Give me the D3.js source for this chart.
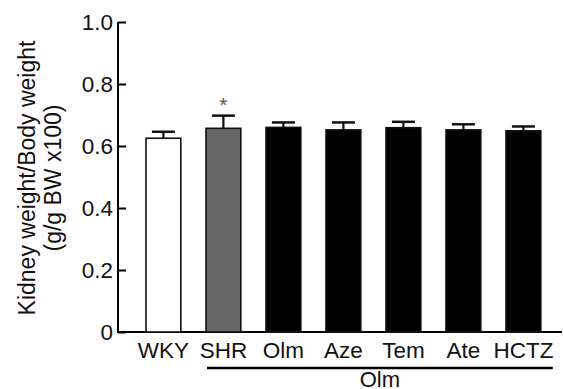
<!DOCTYPE html>
<html>
<head>
<meta charset="utf-8">
<script src="https://cdn.jsdelivr.net/npm/d3@7"></script>
<style>
  body { margin: 0; background: #fff; }
  svg { display: block; font-family: Arial, "Liberation Sans", sans-serif; }
</style>
</head>
<body>
<script>
// data
const groups = ['WKY', 'SHR', 'Olm', 'Aze', 'Tem', 'Ate', 'HCTZ'];
const means = [0.625, 0.657, 0.660, 0.652, 0.659, 0.652, 0.649];
const errors = [0.021, 0.041, 0.016, 0.024, 0.019, 0.018, 0.014];
const fills = ['#ffffff', '#666666', '#000000', '#000000', '#000000', '#000000', '#000000'];
const yTicks = [0, 0.2, 0.4, 0.6, 0.8, 1.0];
const signif = ['', '*', '', '', '', '', ''];
const treatedGroups = ['SHR', 'HCTZ'];  // span of the "Olm" bracket
const treatedLabel = 'Olm';

const width = 563;
const height = 389;

const svg = d3.select('body')
    .append('svg')
    .attr('width', width)
    .attr('height', height);

// scales
const xScale = d3.scaleBand()
    .domain(groups)
    .range([133.4, 553.4])
    .paddingInner(0.42)
    .paddingOuter(0.21);

const yScale = d3.scaleLinear()
    .domain([0, 1])
    .range([332, 22]);

const axisX = 118;

// y axis (ticks point inward)
const yAxis = d3.axisRight(yScale)
    .tickValues(yTicks)
    .tickSize(8)
    .tickFormat(d => d === 0 ? '0' : d3.format('.1f')(d));

const yAxisGroup = svg.append('g')
    .attr('transform', `translate(${axisX},0)`)
    .call(yAxis);

yAxisGroup.select('.domain')
    .attr('d', `M0,${yScale(1)}V${yScale(0)}`)
    .attr('stroke', '#000')
    .attr('stroke-width', 2);

yAxisGroup.selectAll('.tick line')
    .attr('stroke', '#000')
    .attr('stroke-width', 2);

yAxisGroup.selectAll('.tick text')
    .attr('x', -5)
    .attr('text-anchor', 'end')
    .attr('dy', '0.35em')
    .attr('font-size', 22.5)
    .attr('fill', '#111');

// x axis line
svg.append('line')
    .attr('x1', axisX - 1)
    .attr('x2', 562)
    .attr('y1', yScale(0))
    .attr('y2', yScale(0))
    .attr('stroke', '#000')
    .attr('stroke-width', 2);

// bars
const bars = svg.append('g').classed('bars', true);

bars.selectAll('rect')
    .data(groups)
    .join('rect')
    .attr('x', d => xScale(d))
    .attr('y', (d, i) => yScale(means[i]))
    .attr('width', xScale.bandwidth())
    .attr('height', (d, i) => yScale(0) - yScale(means[i]))
    .attr('fill', (d, i) => fills[i])
    .attr('stroke', '#111')
    .attr('stroke-width', 1.6);

// error bars (upper only)
const capHalf = 11.5;
const errs = svg.append('g').classed('errors', true);

errs.selectAll('line.stem')
    .data(groups)
    .join('line')
    .classed('stem', true)
    .attr('x1', d => xScale(d) + xScale.bandwidth() / 2)
    .attr('x2', d => xScale(d) + xScale.bandwidth() / 2)
    .attr('y1', (d, i) => yScale(means[i]))
    .attr('y2', (d, i) => yScale(means[i] + errors[i]))
    .attr('stroke', '#111')
    .attr('stroke-width', 2.2);

errs.selectAll('line.cap')
    .data(groups)
    .join('line')
    .classed('cap', true)
    .attr('x1', d => xScale(d) + xScale.bandwidth() / 2 - capHalf)
    .attr('x2', d => xScale(d) + xScale.bandwidth() / 2 + capHalf)
    .attr('y1', (d, i) => yScale(means[i] + errors[i]))
    .attr('y2', (d, i) => yScale(means[i] + errors[i]))
    .attr('stroke', '#111')
    .attr('stroke-width', 2.5);

// significance marks
svg.append('g')
    .selectAll('text')
    .data(groups)
    .join('text')
    .attr('x', d => xScale(d) + xScale.bandwidth() / 2)
    .attr('y', (d, i) => yScale(means[i] + errors[i]) - 4)
    .attr('text-anchor', 'middle')
    .attr('font-size', 21)
    .attr('fill', '#555')
    .text((d, i) => signif[i]);

// category labels
svg.append('g')
    .selectAll('text')
    .data(groups)
    .join('text')
    .attr('x', d => xScale(d) + xScale.bandwidth() / 2)
    .attr('y', 357.5)
    .attr('text-anchor', 'middle')
    .attr('font-size', 22.5)
    .attr('fill', '#111')
    .text(d => d);

// treatment bracket
const bx1 = xScale(treatedGroups[0]) + 1;
const bx2 = xScale(treatedGroups[1]) + xScale.bandwidth() + 12;

svg.append('line')
    .attr('x1', bx1)
    .attr('x2', bx2)
    .attr('y1', 368)
    .attr('y2', 368)
    .attr('stroke', '#000')
    .attr('stroke-width', 2.5);

svg.append('text')
    .attr('x', (bx1 + bx2) / 2)
    .attr('y', 387)
    .attr('text-anchor', 'middle')
    .attr('font-size', 22)
    .attr('fill', '#111')
    .text(treatedLabel);

// y axis title
const title = svg.append('text')
    .attr('transform', `translate(34.5,178) rotate(-90)`)
    .attr('text-anchor', 'middle')
    .attr('font-size', 23)
    .attr('fill', '#111');

title.append('tspan')
    .attr('x', 0)
    .attr('y', 0)
    .text('Kidney weight/Body weight');

title.append('tspan')
    .attr('x', 0)
    .attr('y', 26)
    .text('(g/g BW x100)');
</script>
</body>
</html>
